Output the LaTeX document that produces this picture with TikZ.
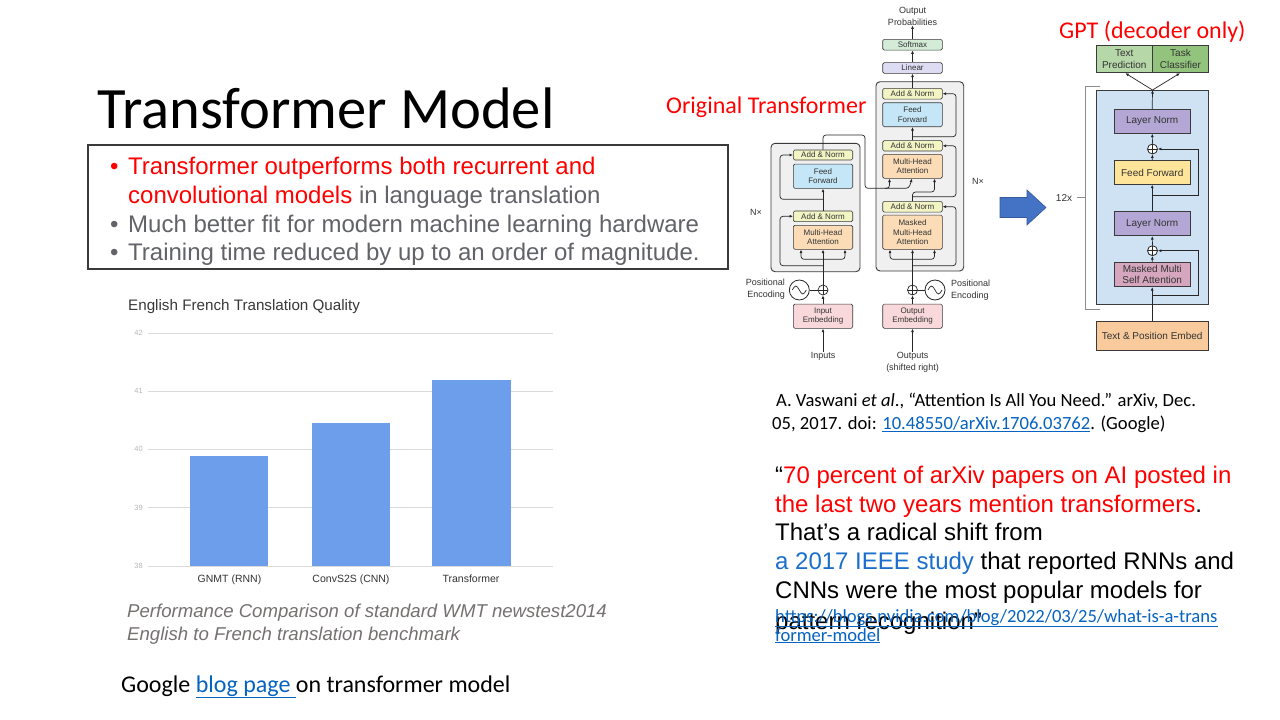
\documentclass[tikz,border=0pt]{standalone}
\usepackage{fontspec}
\setmainfont{Carlito}
\newfontfamily\arial{Liberation Sans}
\usetikzlibrary{arrows.meta}
\definecolor{dgray}{HTML}{3A3A3A}
\definecolor{txt}{HTML}{333333}
\definecolor{cAN}{HTML}{F2F4C3}
\definecolor{cFF}{HTML}{C5E6F6}
\definecolor{cMHA}{HTML}{FBDCB6}
\definecolor{cEmb}{HTML}{F8D8DA}
\definecolor{cLin}{HTML}{DCDCF2}
\definecolor{cSoft}{HTML}{D3EBD7}
\definecolor{bulgray}{HTML}{626368}
\definecolor{linkblue}{HTML}{0563C1}
\definecolor{studyblue}{HTML}{1A6FCC}
\definecolor{barblue}{HTML}{6D9EEB}
\definecolor{gridc}{HTML}{DADADA}
\definecolor{capgray}{HTML}{767171}
\definecolor{gBody}{HTML}{CFE2F3}
\definecolor{gLN}{HTML}{B4A7D6}
\definecolor{gFFc}{HTML}{FFE599}
\definecolor{gMSAc}{HTML}{D5A6BD}
\definecolor{gEmbc}{HTML}{F9CB9C}
\definecolor{gTP}{HTML}{B6D7A8}
\definecolor{gTC}{HTML}{93C47D}
\definecolor{arrblue}{HTML}{4472C4}
\tikzset{
  blk/.style={draw=dgray, line width=0.6, rounded corners=1.5, inner sep=0pt, align=center,
    font=\arial\fontsize{8}{9.5}\selectfont, text=txt},
  gblk/.style={draw=dgray, line width=0.8, inner sep=0pt, align=center,
    font=\arial\fontsize{10}{11.5}\selectfont, text=txt},
  outerbox/.style={draw=dgray, fill=black!6, rounded corners=4, line width=0.9, inner sep=0pt},
  arr/.style={-{Latex[length=3.5pt,width=3pt]}, line width=0.7, draw=black!85},
  ln/.style={line width=0.7, draw=black!85},
  lbl/.style={inner sep=0pt, align=center, font=\arial\fontsize{9}{12}\selectfont, text=txt},
  oplus/.style={circle, draw=black!85, line width=0.7, minimum size=10pt, inner sep=0pt, fill=white,
    path picture={\draw[line width=0.6] (path picture bounding box.north) -- (path picture bounding box.south)
      (path picture bounding box.west) -- (path picture bounding box.east);}},
  sinew/.style={circle, draw=black!85, line width=0.8, minimum size=20pt, inner sep=0pt, fill=white,
    path picture={\draw[line width=0.7] ([xshift=-7pt]path picture bounding box.center)
      sin ++(3.5pt,4pt) cos ++(3.5pt,-4pt) sin ++(3.5pt,-4pt) cos ++(3.5pt,4pt);}},
  slide/.style={inner sep=0pt, anchor=base west},
}
\begin{document}
\begin{tikzpicture}[x=1pt,y=-1pt]
\useasboundingbox[fill=white] (0,0) rectangle (1280,720);

% ---------------- Title and bullet box ----------------
\node[slide, font=\fontsize{58.6}{60}\selectfont] (title) at (97,128) {Transformer Model};
\node[draw=dgray, line width=1.3, minimum width=640, minimum height=124, inner sep=0pt] (bulbox) at (408,207) {};
\begin{scope}[every node/.style={slide, font=\arial\fontsize{24}{29}\selectfont}]
\node[text=red] (b1) at (110,174) {•};
\node (l1) at (128,174) {\textcolor{red}{Transformer outperforms both recurrent and}};
\node (l2) at (128,203) {\textcolor{red}{convolutional models} \textcolor{bulgray}{in language translation}};
\node[text=bulgray] (b2) at (110,232) {•};
\node[text=bulgray] (l3) at (128,232) {Much better fit for modern machine learning hardware};
\node[text=bulgray] (b3) at (110,260) {•};
\node[text=bulgray] (l4) at (128,260) {Training time reduced by up to an order of magnitude.};
\end{scope}

% ---------------- Chart ----------------
\node[slide, anchor=west, font=\arial\fontsize{15.2}{17}\selectfont, text=black!78] (ctitle) at (128,307) {English French Translation Quality};
\foreach \v/\yy in {42/333.3,41/391.0,40/449.0,39/507.5,38/566} {
  \draw[gridc, line width=0.9] (148,\yy) -- (553,\yy);
  \node[inner sep=0pt, anchor=east, font=\arial\fontsize{7.5}{8}\selectfont, text=black!28] (tick\v) at (143,\yy) {\v};
}
\fill[barblue] (190,455.7) rectangle (268.3,566);
\fill[barblue] (311.7,422.7) rectangle (390,566);
\fill[barblue] (431.7,380) rectangle (510.7,566);
\begin{scope}[every node/.style={inner sep=0pt, anchor=base, font=\arial\fontsize{10.5}{12}\selectfont, text=black!80}]
\node (c1) at (229.5,582) {GNMT (RNN)};
\node (c2) at (351,582) {ConvS2S (CNN)};
\node (c3) at (471,582) {Transformer};
\end{scope}
\node[slide, font=\arial\itshape\fontsize{18.6}{20}\selectfont, text=capgray] (cap1) at (127,617) {Performance Comparison of standard WMT newstest2014};
\node[slide, font=\arial\itshape\fontsize{18.6}{20}\selectfont, text=capgray] (cap2) at (127,640) {English to French translation benchmark};
\node[slide, font=\fontsize{24}{26}\selectfont] (google) at (121,692) {Google \textcolor{linkblue}{\underline{blog page }}on transformer model};

% ---------------- Labels ----------------
\node[slide, font=\fontsize{24}{26}\selectfont, text=red] (origlbl) at (666,113) {Original Transformer};
\node[slide, font=\fontsize{24}{26}\selectfont, text=red] (gptlbl) at (1059,38) {GPT (decoder only)};

% ---------------- Original Transformer ----------------
\node[outerbox, minimum width=89, minimum height=128.4] (encbox) at (815.5,207.5) {};
\node[outerbox, minimum width=87.7, minimum height=189.3] (decbox) at (919.85,176.35) {};

% encoder blocks
\node[blk, fill=cAN, minimum width=59.4, minimum height=10] (eAN1) at (823,155) {Add \& Norm};
\node[blk, fill=cFF, minimum width=59.4, minimum height=24.3] (eFF) at (823,176.2) {Feed\\Forward};
\node[blk, fill=cAN, minimum width=59.4, minimum height=10.7] (eAN2) at (823,216.3) {Add \& Norm};
\node[blk, fill=cMHA, minimum width=59.4, minimum height=24] (eMHA) at (823,237.3) {Multi-Head\\Attention};
\node[blk, fill=cEmb, minimum width=59.4, minimum height=24.3] (inemb) at (823,316.2) {Input\\Embedding};
\node[oplus] (esum) at (823,290) {};
\node[sinew] (esine) at (799.3,290) {};
\node[lbl, anchor=east, align=right] (epos) at (785,289.5) {Positional\\Encoding};
\node[lbl] (inputs) at (823,356) {Inputs};
\node[lbl] (nx1) at (756,212.3) {N×};

% decoder blocks
\node[blk, fill=cSoft, minimum width=59.6, minimum height=10.7] (softmax) at (912.5,44.7) {Softmax};
\node[blk, fill=cLin, minimum width=59.6, minimum height=10.7] (linear) at (912.5,68) {Linear};
\node[blk, fill=cAN, minimum width=59.6, minimum height=10.7] (dAN1) at (912.5,93.7) {Add \& Norm};
\node[blk, fill=cFF, minimum width=59.6, minimum height=24] (dFF) at (912.5,114.7) {Feed\\Forward};
\node[blk, fill=cAN, minimum width=59.6, minimum height=10.3] (dAN2) at (912.5,145.8) {Add \& Norm};
\node[blk, fill=cMHA, minimum width=59.6, minimum height=24] (dMHA) at (912.5,166.3) {Multi-Head\\Attention};
\node[blk, fill=cAN, minimum width=59.6, minimum height=10.7] (dAN3) at (912.5,206.7) {Add \& Norm};
\node[blk, fill=cMHA, minimum width=59.6, minimum height=34.3] (dMMHA) at (912.5,232.2) {Masked\\Multi-Head\\Attention};
\node[blk, fill=cEmb, minimum width=59.6, minimum height=24.3] (outemb) at (912.5,316.2) {Output\\Embedding};
\node[oplus] (dsum) at (912.5,290) {};
\node[sinew] (dsine) at (935,290) {};
\node[lbl, anchor=west, align=left] (dpos) at (951,290) {Positional\\Encoding};
\node[lbl, align=center] (outputs) at (912.5,362.5) {Outputs\\(shifted right)};
\node[lbl] (outprob) at (912.5,16) {Output\\Probabilities};
\node[lbl] (nx2) at (978,181.7) {N×};

% encoder connectors
\draw[arr] (inputs.north) -- (inemb.south);
\draw[arr] (inemb.north) -- (esum.south);
\draw[ln] (esine) -- (esum);
\draw[arr] (esum.north) -- (eMHA.south);
\coordinate (eb1) at (823,265.7);
\coordinate (eb2) at (823,259.3);
\coordinate (eb3) at (823,199.3);
\draw[arr, rounded corners=3] (eb1) -- (780,265.7) |- (eAN2.west);
\draw[arr, rounded corners=3] (eb2) -| ([xshift=-22]eMHA.south);
\draw[arr, rounded corners=3] (eb2) -| ([xshift=22]eMHA.south);
\draw[arr] (eAN2.north) -- (eFF.south);
\draw[arr, rounded corners=3] (eb3) -- (780,199.3) |- (eAN1.west);
\draw[arr, rounded corners=3] (eAN1.north) -- (823,135) -- (865,135) -- (865,188.3) -- (889.5,188.3) -- ([xshift=-23]dMHA.south);
\draw[arr, rounded corners=3] (885,188.3) -- (909,188.3) -- ([xshift=-0.5]dMHA.south);

% decoder connectors
\draw[arr] (outputs.north) -- (outemb.south);
\draw[arr] (outemb.north) -- (dsum.south);
\draw[ln] (dsine) -- (dsum);
\draw[arr] (dsum.north) -- (dMMHA.south);
\coordinate (db1) at (912.5,265.7);
\coordinate (db2) at (912.5,259.3);
\coordinate (db3) at (912.5,196.7);
\coordinate (db4) at (912.5,136.7);
\draw[arr, rounded corners=3] (db1) -- (956,265.7) |- (dAN3.east);
\draw[arr, rounded corners=3] (db2) -| ([xshift=-22.5]dMMHA.south);
\draw[arr, rounded corners=3] (db2) -| ([xshift=22]dMMHA.south);
\draw[arr, rounded corners=3] (dAN3.north) -- (912.5,192) -- (934.5,192) -- ([xshift=22]dMHA.south);
\draw[arr, rounded corners=3] (db3) -- (956,196.7) |- (dAN2.east);
\draw[arr] (dAN2.north) -- (dFF.south);
\draw[arr, rounded corners=3] (db4) -- (956,136.7) |- (dAN1.east);
\draw[arr] (dAN1.north) -- (linear.south);
\draw[arr] (linear.north) -- (softmax.south);
\draw[arr] (softmax.north) -- (outprob.south);

% ---------------- Blue arrow ----------------
\filldraw[fill=arrblue, draw=arrblue!80!black, line width=0.6] (1000,197.5) -- (1027,197.5) -- (1027,190) -- (1046,207.5) -- (1027,225) -- (1027,217.5) -- (1000,217.5) -- cycle;

% ---------------- GPT ----------------
\node[gblk, fill=gBody, minimum width=112.3, minimum height=214] (gbody) at (1152.2,197) {};
\draw[black!45, line width=0.8] (1100,86) -- (1085.7,86) -- (1085.7,309.3) -- (1100,309.3);
\node[inner sep=0pt, font=\arial\fontsize{10}{11}\selectfont, text=txt] (g12) at (1064,197.7) {12x};
\draw[black!45, line width=0.8] (g12.east) ++(5,0) -- (1085.7,197.7);
\node[gblk, fill=gTP, minimum width=56.7, minimum height=27.7] (gtp) at (1124.3,58.9) {Text\\Prediction};
\node[gblk, fill=gTC, minimum width=55.6, minimum height=27.7] (gtc) at (1180.5,58.9) {Task\\Classifier};
\node[gblk, fill=gLN, minimum width=75.7, minimum height=24] (gLN1) at (1152.2,121.3) {Layer Norm};
\node[oplus, line width=0.8] (gsum1) at (1152.5,149) {};
\node[gblk, fill=gFFc, minimum width=75.7, minimum height=23.6] (gFF) at (1152.2,172.5) {Feed Forward};
\node[gblk, fill=gLN, minimum width=75.7, minimum height=24] (gLN2) at (1152.2,223.7) {Layer Norm};
\node[oplus, line width=0.8] (gsum2) at (1152.5,250.7) {};
\node[gblk, fill=gMSAc, minimum width=75.7, minimum height=24.4] (gMSA) at (1152.2,274.5) {Masked Multi\\Self Attention};
\node[gblk, fill=gEmbc, minimum width=112.3, minimum height=28.3] (gemb) at (1152.2,335.9) {Text \& Position Embed};
\coordinate (gtop) at (1152.5,90);
\coordinate (gr1) at (1152.5,295.7);
\coordinate (gr2) at (1152.5,195.7);
\draw[arr] (gemb.north) -- (gMSA.south);
\draw[arr] (gMSA.north) -- (gsum2.south);
\draw[arr] (gsum2.north) -- (gLN2.south);
\draw[arr] (gLN2.north) -- (gFF.south);
\draw[arr] (gFF.north) -- (gsum1.south);
\draw[arr] (gsum1.north) -- (gLN1.south);
\draw[arr] (gLN1.north) -- (gtop);
\draw[arr] (gtop) -- ([xshift=1]gtp.south);
\draw[arr] (gtop) -- ([xshift=-0.5]gtc.south);
\draw[arr, line width=0.8] (gr1) -- (1198.3,295.7) |- (gsum2.east);
\draw[arr, line width=0.8] (gr2) -- (1198.3,195.7) |- (gsum1.east);

% ---------------- Citation and quote ----------------
\node[slide, font=\fontsize{18.6}{21}\selectfont] (cite1) at (776,406) {A. Vaswani \textit{et al}., “Attention Is All You Need.” arXiv, Dec.};
\node[slide, font=\fontsize{18.6}{21}\selectfont] (cite2) at (772,429) {05, 2017. doi: \textcolor{linkblue}{\underline{10.48550/arXiv.1706.03762}}. (Google)};
\begin{scope}[every node/.style={slide, font=\arial\fontsize{24}{29}\selectfont}]
\node (q1) at (775,483) {“\textcolor{red}{70 percent of arXiv papers on AI posted in}};
\node (q2) at (775,512) {\textcolor{red}{the last two years mention transformers}.};
\node (q3) at (775,540) {That’s a radical shift from};
\node (q4) at (775,569) {\textcolor{studyblue}{a 2017 IEEE study} that reported RNNs and};
\node (q5) at (775,598) {CNNs were the most popular models for};
\node (q6) at (775,629) {pattern recognition”};
\end{scope}
\node[slide, font=\fontsize{18.6}{21}\selectfont, text=linkblue] (url1) at (775,622) {\underline{https://blogs.nvidia.com/blog/2022/03/25/what-is-a-trans}};
\node[slide, font=\fontsize{18.6}{21}\selectfont, text=linkblue] (url2) at (775,641) {\underline{former-model}};

\end{tikzpicture}
\end{document}
